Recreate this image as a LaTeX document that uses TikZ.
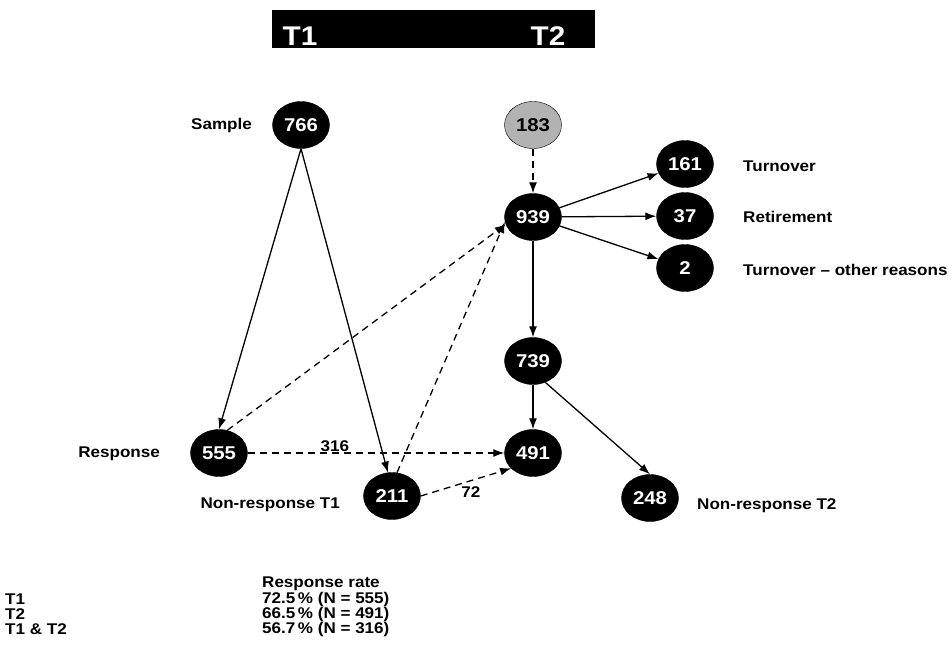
\documentclass[tikz,border=0pt]{standalone}
\usepackage{fontspec}
\setmainfont[FakeStretch=1.1]{Liberation Sans}
\usepackage{tikz}
\usetikzlibrary{arrows.meta}
\usetikzlibrary{shapes.geometric}
\tikzset{blob/.style = {ellipse, fill, draw, text = white, inner sep = 0, minimum width = 57, minimum height = 47, font = \fontsize{18.5}{18.5}\selectfont\bfseries}}
\tikzset{lbl/.style = {inner sep = 0, font = \fontsize{15.5}{15.5}\selectfont\bfseries}}
\tikzset{arr/.style = {-{Latex[length=11pt, width=8pt]}, line width = 1.3pt}}
\tikzset{darr/.style = {arr, dash pattern = on 7pt off 5pt}}
\definecolor{mgray}{rgb}{0.7, 0.7, 0.7}

\begin{document}
\begin{tikzpicture}[x=1pt, y=-1pt]
      \useasboundingbox (0, 0) rectangle (952, 654);

      % time bar
      \fill (272, 10) rectangle (595, 48);
      \node [lbl, anchor = base, text = white, font = \fontsize{27}{27}\selectfont\bfseries] (t1) at (300, 45) {T1};
      \node [lbl, anchor = base, text = white, font = \fontsize{27}{27}\selectfont\bfseries] (t2) at (548, 45) {T2};

      % counts
      \node [blob] (n766) at (301, 125) {766};
      \node [blob, fill = mgray, text = black] (n183) at (533, 125) {183};
      \node [blob] (n939) at (533, 217) {939};
      \node [blob] (n161) at (685, 164) {161};
      \node [blob] (n37) at (685, 216) {37};
      \node [blob] (n2) at (685, 268) {2};
      \node [blob] (n739) at (533, 361) {739};
      \node [blob] (n555) at (219, 453) {555};
      \node [blob] (n491) at (533, 453) {491};
      \node [blob] (n211) at (392, 496) {211};
      \node [blob] (n248) at (650, 498) {248};

      \node [lbl, anchor = east] (sample) at (252, 125) {Sample};
      \node [lbl, anchor = west] (turn) at (743, 166) {Turnover};
      \node [lbl, anchor = west] (retire) at (743, 217) {Retirement};
      \node [lbl, anchor = west] (other) at (743, 270) {Turnover -- other reasons};
      \node [lbl, anchor = east] (resp) at (160, 454) {Response};
      \node [lbl, anchor = east] (nresp1) at (340, 505) {Non-response T1};
      \node [lbl, anchor = west] (nresp2) at (697, 506) {Non-response T2};

      \draw [arr] (n766.south) -- (n555.north);
      \draw [arr] (n766.south) -- (n211.100);
      \draw [darr] (n555.70) -- (n939.195);
      \draw [darr] (n211.78) -- (n939.190);
      \draw [darr] (n555.east) -- node [lbl, above = 1pt, pos = 0.34] (l316) {316} (n491.west);
      \draw [darr] (n211.east) -- node [lbl, below right = 2pt, pos = 0.42] (l72) {72} (n491.215);

      \draw [darr] (n183) -- (n939);
      \draw [arr] (n939) -- (n161);
      \draw [arr] (n939) -- (n37);
      \draw [arr] (n939) -- (n2);
      \draw [arr] (n939) -- (n739);
      \draw [arr] (n739) -- (n491);
      \draw [arr] (n739.-60) -- (n248.north);

      % rates
      \node [lbl, anchor = west] (rr) at (262, 584) {Response rate};
      \node [lbl, anchor = west] (r1) at (5, 599) {T1};
      \node [lbl, anchor = west] (r2) at (5, 614) {T2};
      \node [lbl, anchor = west] (r12) at (5, 629) {T1 \& T2};
      \node [lbl, anchor = west] (v1) at (262, 599) {72.5\,\% (N = 555)};
      \node [lbl, anchor = west] (v2) at (262, 614) {66.5\,\% (N = 491)};
      \node [lbl, anchor = west] (v12) at (262, 629) {56.7\,\% (N = 316)};
    \end{tikzpicture}
\end{document}
